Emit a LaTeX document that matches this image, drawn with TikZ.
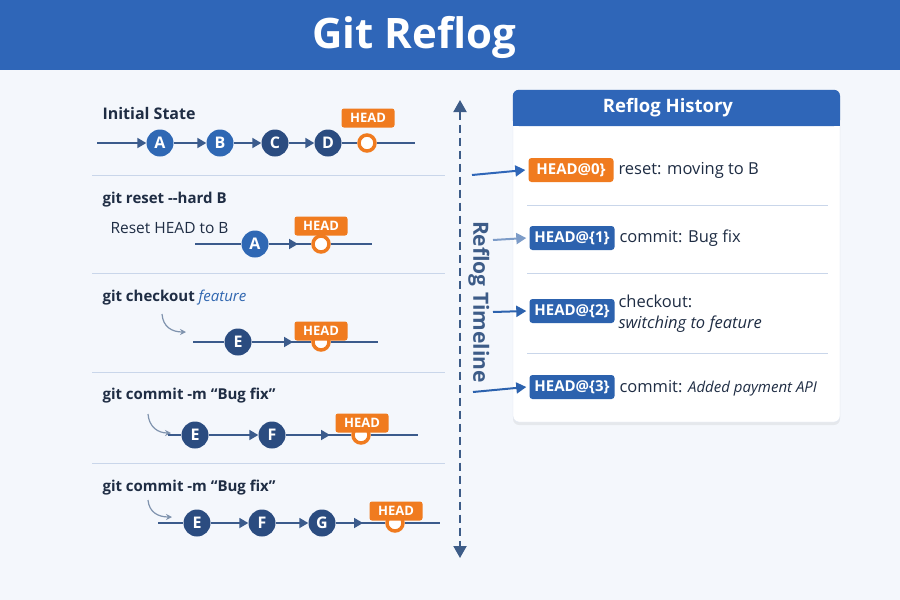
\documentclass[tikz,border=0pt]{standalone}
\usepackage{fontspec}
\setmainfont{Open Sans}
\usetikzlibrary{arrows.meta,shadows}
\definecolor{bgc}{HTML}{F4F7FC}
\definecolor{titlec}{HTML}{2F66B8}
\definecolor{cl}{HTML}{2F68B4}
\definecolor{cd}{HTML}{2B4C80}
\definecolor{lc}{HTML}{3B5B8C}
\definecolor{orng}{HTML}{F07B1F}
\definecolor{sepc}{HTML}{C9D6EA}
\definecolor{txt}{HTML}{1F2D44}
\definecolor{featc}{HTML}{2F66B0}
\definecolor{tlc}{HTML}{3D5C88}
\definecolor{badgeb}{HTML}{2C62AE}
\definecolor{curvc}{HTML}{7F93AE}
\definecolor{lightarr}{HTML}{7D9CC8}
\begin{document}
\begin{tikzpicture}[x=1pt,y=-1pt,
  commitL/.style={circle, fill=cl, minimum size=27pt, inner sep=0pt, text=white, font=\bfseries\fontsize{16}{16}\selectfont},
  commitD/.style={commitL, fill=cd},
  ring/.style={circle, draw=orng, line width=3.5pt, fill=white, minimum size=16pt, inner sep=0pt},
  headlbl/.style={fill=orng, rounded corners=2.5pt, text=white, font=\bfseries\fontsize{13}{13}\selectfont, minimum width=53pt, minimum height=19pt, inner sep=1pt},
  gline/.style={draw=lc, line width=1.8pt},
  garr/.style={gline, -{Triangle[length=9pt,width=10pt]}},
  sepline/.style={draw=sepc, line width=1pt},
  cmd/.style={anchor=west, text=txt, font=\bfseries\fontsize{15}{18}\selectfont},
  curv/.style={draw=curvc, line width=1.2pt, -{Stealth[length=6pt,width=6pt]}},
  badge/.style={rounded corners=3pt, text=white, font=\bfseries\fontsize{15}{15}\selectfont, minimum height=24pt, minimum width=85pt, inner sep=1pt},
  entry/.style={anchor=west, text=txt, font=\fontsize{16.5}{21}\selectfont, align=left},
  rarr/.style={line width=2pt, -{Triangle[length=10pt,width=11pt]}}
]
\useasboundingbox (0,0) rectangle (900,600);
\fill[bgc] (0,0) rectangle (900,600);
\fill[titlec] (0,0) rectangle (900,70);
\node[text=white, font=\bfseries\fontsize{42}{48}\selectfont] (title) at (414,37) {Git Reflog};

% left separators
\coordinate (s1a) at (92,175); \coordinate (s1b) at (445,175);
\coordinate (s2a) at (92,273); \coordinate (s2b) at (445,273);
\coordinate (s3a) at (92,372); \coordinate (s3b) at (445,372);
\coordinate (s4a) at (92,463); \coordinate (s4b) at (445,463);
\draw[sepline] (s1a) -- (s1b);
\draw[sepline] (s2a) -- (s2b);
\draw[sepline] (s3a) -- (s3b);
\draw[sepline] (s4a) -- (s4b);

% Row 1
\node[cmd, font=\bfseries\fontsize{16}{18}\selectfont] (r1t) at (99,113) {Initial State};
\coordinate (r1s) at (97,143);
\coordinate (r1e) at (415,143);
\node[commitL] (A1) at (160,143) {A};
\node[commitL] (B1) at (220,143) {B};
\node[commitD] (C1) at (275,143) {C};
\node[commitD] (D1) at (328,143) {D};
\node[ring] (h1) at (367,143) {};
\draw[garr] (r1s) -- (A1);
\draw[garr] (A1) -- (B1);
\draw[garr] (B1) -- (C1);
\draw[garr] (C1) -- (D1);
\draw[gline] (D1) -- (h1);
\draw[gline] (h1) -- (r1e);
\node[headlbl] (hl1) at (368,118) {HEAD};

% Row 2
\node[cmd] (r2t) at (99,200) {git reset {-}{-}hard B};
\node[anchor=west, text=txt, font=\fontsize{15.5}{17}\selectfont] (r2s2) at (107,228) {Reset HEAD to B};
\coordinate (r2s) at (195,244);
\coordinate (r2e) at (372,244);
\coordinate (m2) at (298,244);
\node[commitL] (A2) at (255,244) {A};
\node[ring] (h2) at (321,244) {};
\draw[gline] (r2s) -- (A2);
\draw[gline] (A2) -- (h2);
\draw[garr] (A2) -- (m2);
\draw[gline] (h2) -- (r2e);
\node[headlbl] (hl2) at (321,226) {HEAD};

% Row 3
\node[cmd] (r3t) at (99,298) {git checkout \textcolor{featc}{\mdseries\itshape feature}};
\coordinate (c3a) at (162,314); \coordinate (c3b) at (186,332);
\draw[curv] (c3a) .. controls (163,327) and (172,332) .. (c3b);
\coordinate (r3s) at (193,342);
\coordinate (r3e) at (378,342);
\coordinate (m3) at (293,342);
\node[commitD] (E3) at (238,342) {E};
\node[ring] (h3) at (321,342) {};
\draw[gline] (r3s) -- (E3);
\draw[gline] (E3) -- (h3);
\draw[garr] (E3) -- (m3);
\draw[gline] (h3) -- (r3e);
\node[headlbl] (hl3) at (321,331) {HEAD};

% Row 4
\node[cmd] (r4t) at (99,396) {git commit -m “Bug fix”};
\coordinate (c4a) at (148,414); \coordinate (c4b) at (171,433);
\draw[curv] (c4a) .. controls (149,427) and (158,433) .. (c4b);
\coordinate (r4s) at (168,435);
\coordinate (r4e) at (418,435);
\coordinate (m4) at (330,435);
\node[commitD] (E4) at (195,435) {E};
\node[commitD] (F4) at (272,435) {F};
\node[ring] (h4) at (361,435) {};
\draw[gline] (r4s) -- (E4);
\draw[garr] (E4) -- (F4);
\draw[gline] (F4) -- (h4);
\draw[garr] (F4) -- (m4);
\draw[gline] (h4) -- (r4e);
\node[headlbl] (hl4) at (362,423) {HEAD};

% Row 5
\node[cmd] (r5t) at (99,488) {git commit -m “Bug fix”};
\coordinate (c5a) at (148,500); \coordinate (c5b) at (172,517);
\draw[curv] (c5a) .. controls (149,512) and (158,517) .. (c5b);
\coordinate (r5s) at (158,523);
\coordinate (r5e) at (440,523);
\coordinate (m5) at (363,523);
\node[commitD] (E5) at (197,523) {E};
\node[commitD] (F5) at (262,523) {F};
\node[commitD] (G5) at (322,523) {G};
\node[ring] (h5) at (395,523) {};
\draw[gline] (r5s) -- (E5);
\draw[garr] (E5) -- (F5);
\draw[garr] (F5) -- (G5);
\draw[gline] (G5) -- (h5);
\draw[garr] (G5) -- (m5);
\draw[gline] (h5) -- (r5e);
\node[headlbl] (hl5) at (396,511) {HEAD};

% Timeline
\coordinate (ttop) at (460,100);
\coordinate (tbot) at (460,558);
\draw[draw=tlc, line width=2pt, dash pattern=on 8pt off 5pt, {Triangle[length=12pt,width=13pt]}-{Triangle[length=12pt,width=13pt]}] (ttop) -- (tbot);
\node[rotate=-90, text=tlc, font=\bfseries\fontsize{21}{21}\selectfont] (tl) at (479,302) {Reflog Timeline};

% Card
\node[fill=white, draw=sepc!60, rounded corners=6pt, minimum width=327pt, minimum height=332pt, inner sep=0pt, drop shadow={opacity=0.12, shadow xshift=0pt, shadow yshift=-3pt}] (card) at (676.5,256) {};
\fill[titlec, rounded corners=6pt] (card.north west) rectangle (840,126);
\fill[titlec] (513,112) rectangle (840,126);
\node[text=white, font=\bfseries\fontsize{18.5}{18.5}\selectfont] (cardt) at (668,108) {Reflog History};
\coordinate (k1a) at (527,205); \coordinate (k1b) at (828,205);
\coordinate (k2a) at (527,273); \coordinate (k2b) at (828,273);
\coordinate (k3a) at (527,353); \coordinate (k3b) at (828,353);
\draw[sepline] (k1a) -- (k1b);
\draw[sepline] (k2a) -- (k2b);
\draw[sepline] (k3a) -- (k3b);

\node[badge, fill=orng] (b0) at (571,170) {HEAD@0\}};
\node[badge, fill=badgeb] (b1) at (572,238) {HEAD@\{1\}};
\node[badge, fill=badgeb] (b2) at (572,311) {HEAD@\{2\}};
\node[badge, fill=badgeb] (b3) at (572,387) {HEAD@\{3\}};
\node[entry] (e0) at (615,170) {reset: moving to B};
\node[entry] (e1) at (616,238) {commit: Bug fix};
\node[entry] (e2) at (615,314) {checkout:\\\textit{switching to feature}};
\node[entry] (e3) at (616,388) {commit: {\fontsize{15}{15}\selectfont\itshape Added payment API}};

\coordinate (a0) at (472,175);
\coordinate (a1) at (493,240);
\coordinate (a2) at (493,312);
\coordinate (a3) at (473,392);
\draw[rarr, draw=titlec, fill=titlec] (a0) -- ([xshift=-3pt]b0.west);
\draw[rarr, draw=lightarr, fill=lightarr] (a1) -- ([xshift=-3pt]b1.west);
\draw[rarr, draw=badgeb, fill=badgeb] (a2) -- ([xshift=-3pt]b2.west);
\draw[rarr, draw=badgeb, fill=badgeb] (a3) -- ([xshift=-3pt]b3.west);
\end{tikzpicture}
\end{document}
